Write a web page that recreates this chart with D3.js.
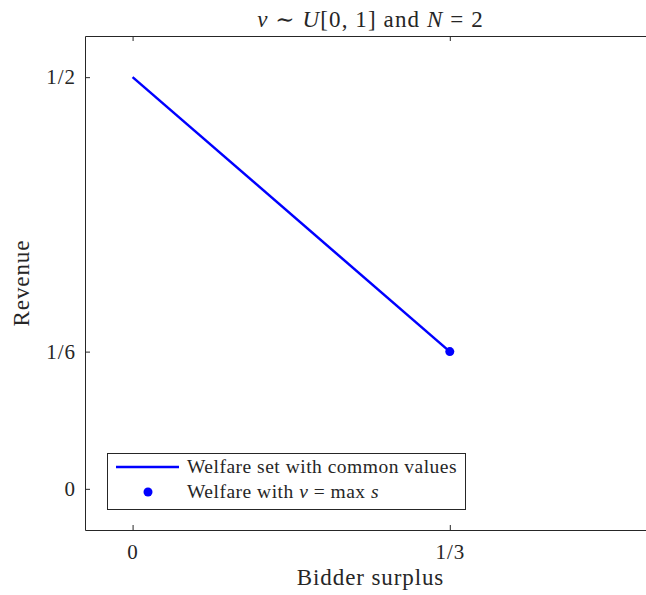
<!DOCTYPE html>
<html>
<head>
<meta charset="utf-8">
<script src="https://cdn.jsdelivr.net/npm/d3@7"></script>
<style>
 body { margin: 0; background: #fff; }
 text { font-family: "Liberation Serif", "DejaVu Serif", serif; fill: #262626; }
</style>
</head>
<body>
<div id="chart"></div>
<script>
// data
var lineX = [0, 1/3];
var lineY = [1/2, 1/6];
var pointX = [1/3];
var pointY = [1/6];
var xTicks = [0, 1/3];
var xTickLabels = ["0", "1/3"];
var yTicks = [0, 1/6, 1/2];
var yTickLabels = ["0", "1/6", "1/2"];

var W = 646, H = 595;
var svg = d3.select("#chart").append("svg")
    .attr("width", W)
    .attr("height", H);

var mLeft = 85, mTop = 36, mBottom = 530, mRight = 656;
var x = d3.scaleLinear().domain([-0.05, 0.55]).range([mLeft, mRight]);
var y = d3.scaleLinear().domain([-0.05, 0.55]).range([mBottom, mTop]);
var axisColor = "#262626";

// axes (inward ticks like matlab)
var gx = svg.append("g").attr("transform", "translate(0," + mBottom + ")")
    .call(d3.axisBottom(x).tickValues(xTicks).tickSizeInner(-5).tickSizeOuter(0)
        .tickFormat(function(d, i) { return xTickLabels[i]; }));
var gxt = svg.append("g").attr("transform", "translate(0," + mTop + ")")
    .call(d3.axisTop(x).tickValues(xTicks).tickSizeInner(-5).tickSizeOuter(0).tickFormat(""));
var gy = svg.append("g").attr("transform", "translate(" + mLeft + ",0)")
    .call(d3.axisLeft(y).tickValues(yTicks).tickSizeInner(-5).tickSizeOuter(0)
        .tickFormat(function(d) { return yTickLabels[yTicks.indexOf(d)]; }));
var gyr = svg.append("g").attr("transform", "translate(" + mRight + ",0)")
    .call(d3.axisRight(y).tickValues(yTicks).tickSizeInner(-5).tickSizeOuter(0).tickFormat(""));

[gx, gxt, gy, gyr].forEach(function(g) {
    g.selectAll("path, line").attr("stroke", axisColor).attr("stroke-width", 1);
    g.selectAll("text").style("font-family", "Liberation Serif, serif")
        .style("font-size", "21px").style("letter-spacing", "1px").attr("fill", axisColor);
});
gx.selectAll(".tick text").attr("dy", null).attr("y", 29);
gy.selectAll(".tick text").attr("x", -9).attr("dy", "0.32em");

// series
svg.append("path")
    .datum(d3.zip(lineX, lineY))
    .attr("fill", "none")
    .attr("stroke", "#0000ff")
    .attr("stroke-width", 2.5)
    .attr("d", d3.line().x(function(d) { return x(d[0]); }).y(function(d) { return y(d[1]); }));

svg.selectAll("circle.pt")
    .data(d3.zip(pointX, pointY))
  .enter().append("circle")
    .attr("class", "pt")
    .attr("cx", function(d) { return x(d[0]); })
    .attr("cy", function(d) { return y(d[1]); })
    .attr("r", 4.5)
    .attr("fill", "#0000ff");

// title
var title = svg.append("text")
    .attr("x", (mLeft + mRight) / 2).attr("y", 27)
    .attr("text-anchor", "middle")
    .style("font-size", "23px").style("letter-spacing", "1.1px").attr("fill", "#000");
title.append("tspan").style("font-style", "italic").text("v");
title.append("tspan").text(" \u223C ");
title.append("tspan").style("font-style", "italic").text("U");
title.append("tspan").text("[0, 1] and ");
title.append("tspan").style("font-style", "italic").text("N");
title.append("tspan").text(" = 2");

// axis labels
svg.append("text")
    .attr("x", (mLeft + mRight) / 2).attr("y", 585)
    .attr("text-anchor", "middle")
    .style("font-size", "23px").style("letter-spacing", "0.9px")
    .text("Bidder surplus");

svg.append("text")
    .attr("transform", "translate(29," + (mTop + mBottom) / 2 + ") rotate(-90)")
    .attr("text-anchor", "middle")
    .style("font-size", "23px").style("letter-spacing", "0.9px")
    .text("Revenue");

// legend
var lg = svg.append("g");
lg.append("rect")
    .attr("x", 107.5).attr("y", 453.5).attr("width", 358).attr("height", 56)
    .attr("fill", "#fff").attr("stroke", axisColor).attr("stroke-width", 1);
lg.append("line")
    .attr("x1", 116).attr("x2", 179).attr("y1", 467).attr("y2", 467)
    .attr("stroke", "#0000ff").attr("stroke-width", 2.5);
lg.append("circle")
    .attr("cx", 148).attr("cy", 492).attr("r", 4.5).attr("fill", "#0000ff");
lg.append("text")
    .attr("x", 187).attr("y", 473)
    .style("font-size", "19.5px").style("letter-spacing", "0.5px").attr("fill", "#000")
    .text("Welfare set with common values");
var t2 = lg.append("text")
    .attr("x", 187).attr("y", 498)
    .style("font-size", "19.5px").style("letter-spacing", "0.5px").attr("fill", "#000");
t2.append("tspan").text("Welfare with ");
t2.append("tspan").style("font-style", "italic").text("v");
t2.append("tspan").text(" = max ");
t2.append("tspan").style("font-style", "italic").text("s");
</script>
</body>
</html>
